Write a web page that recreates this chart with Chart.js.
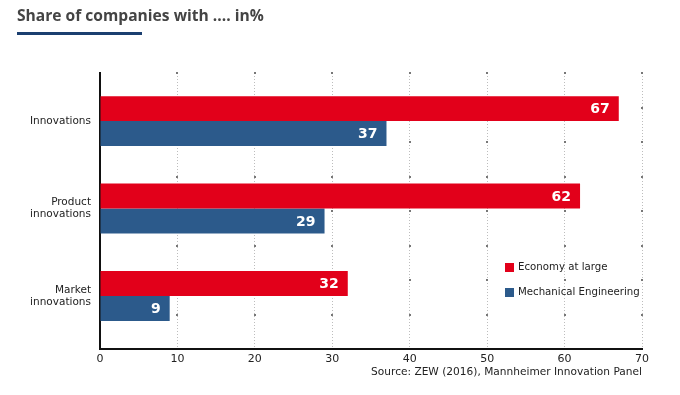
<!DOCTYPE html>
<html>
<head>
<meta charset="utf-8">
<script src="https://cdn.jsdelivr.net/npm/chart.js@4"></script>
<style>
  html, body { margin: 0; padding: 0; background: #fff; }
  #wrap { position: relative; width: 680px; height: 395px; overflow: hidden; }
  #title { position: absolute; left: 17px; top: 4px; font: bold 15.6px "Open Sans", sans-serif; color: #444; white-space: nowrap; }
  #rule { position: absolute; left: 17px; top: 32px; width: 125px; height: 3px; background: #1b3f70; }
  #source { position: absolute; right: 38px; top: 365px; font: 10.6px "DejaVu Sans", sans-serif; color: #222; white-space: nowrap; }
  #legend { position: absolute; left: 505px; top: 259px; font: 10.2px "DejaVu Sans", sans-serif; color: #222; }
  .li { height: 25px; display: flex; align-items: flex-start; white-space: nowrap; line-height: 16px; }
  .sw { width: 9px; height: 9px; margin: 4px 4px 0 0; }
  canvas { position: absolute; left: 0; top: 0; }
</style>
</head>
<body>
<div id="wrap">
  <canvas id="c" width="680" height="395"></canvas>
  <div id="title">Share of companies with .... in%</div>
  <div id="rule"></div>
  <div id="legend"></div>
  <div id="source">Source: ZEW (2016), Mannheimer Innovation Panel</div>
</div>
<script>
const categories = [["Innovations"], ["Product", "innovations"], ["Market", "innovations"]];
const seriesNames = ["Economy at large", "Mechanical Engineering"];
const economyValues = [67, 62, 32];
const engineeringValues = [37, 29, 9];
const xTicks = [0, 10, 20, 30, 40, 50, 60, 70];
const seriesColors = ["#e2001a", "#2c5a8b"];
// category axis padding (in category units) before first / after last category
const categoryPadStart = 0.55;
const categoryPadEnd = 0.605;

const categoryRange = {
  id: 'categoryRange',
  afterLayout(chart) {
    const y = chart.scales.y;
    y._startValue = y.min - categoryPadStart;
    y._valueRange = (y.max + categoryPadEnd) - y._startValue;
  }
};

const valueLabels = {
  id: 'valueLabels',
  afterDatasetsDraw(chart) {
    const ctx = chart.ctx;
    ctx.save();
    ctx.font = 'bold 14px "DejaVu Sans", sans-serif';
    ctx.fillStyle = '#fff';
    ctx.textAlign = 'right';
    ctx.textBaseline = 'middle';
    chart.data.datasets.forEach((ds, i) => {
      chart.getDatasetMeta(i).data.forEach((bar, j) => {
        ctx.fillText(String(ds.data[j]), bar.x - 9, bar.y + 1);
      });
    });
    ctx.restore();
  }
};

const gridDots = {
  id: 'gridDots',
  beforeDatasetsDraw(chart) {
    const ctx = chart.ctx, a = chart.chartArea, xs = chart.scales.x;
    ctx.save();
    ctx.fillStyle = '#777';
    const n = 8;
    xs.ticks.forEach(t => {
      if (t.value === 0) return;
      const x = Math.round(xs.getPixelForValue(t.value));
      for (let k = 0; k < n; k++) {
        const y = a.top + k * (a.bottom - a.top) / n;
        ctx.fillRect(x - 1, Math.round(y) - 1, 2, 2);
      }
    });
    ctx.restore();
  }
};

const chart = new Chart(document.getElementById('c'), {
  type: 'bar',
  data: {
    labels: categories,
    datasets: [
      { label: seriesNames[0], data: economyValues, backgroundColor: seriesColors[0] },
      { label: seriesNames[1], data: engineeringValues, backgroundColor: seriesColors[1] }
    ]
  },
  options: {
    indexAxis: 'y',
    responsive: false,
    animation: false,
    devicePixelRatio: 1,
    layout: { padding: { left: 0, right: 38, top: 73, bottom: 0 } },
    barPercentage: 1,
    categoryPercentage: 0.571,
    plugins: { legend: { display: false }, tooltip: { enabled: false } },
    scales: {
      x: {
        min: 0, max: 70,
        afterBuildTicks(scale) { scale.ticks = xTicks.map(v => ({ value: v })); },
        grid: { color: '#bdbdbd', lineWidth: 1, drawTicks: false },
        border: { display: true, color: '#111', width: 2, dash: [1, 2] },
        ticks: { color: '#222', font: { family: '"DejaVu Sans", sans-serif', size: 11 }, padding: 4 },
        afterFit(scale) { scale.height = 46; }
      },
      y: {
        grid: { display: false, drawTicks: false },
        border: { display: true, color: '#111', width: 2 },
        ticks: { color: '#222', font: { family: '"DejaVu Sans", sans-serif', size: 10.5, lineHeight: 1.15 }, padding: 9 },
        afterFit(scale) { scale.width = 100; }
      }
    }
  },
  plugins: [categoryRange, gridDots, valueLabels]
});

const leg = document.getElementById('legend');
chart.data.datasets.forEach(ds => {
  const d = document.createElement('div'); d.className = 'li';
  const s = document.createElement('span'); s.className = 'sw'; s.style.background = ds.backgroundColor;
  const t = document.createElement('span'); t.textContent = ds.label;
  d.appendChild(s); d.appendChild(t); leg.appendChild(d);
});
</script>
</body>
</html>
